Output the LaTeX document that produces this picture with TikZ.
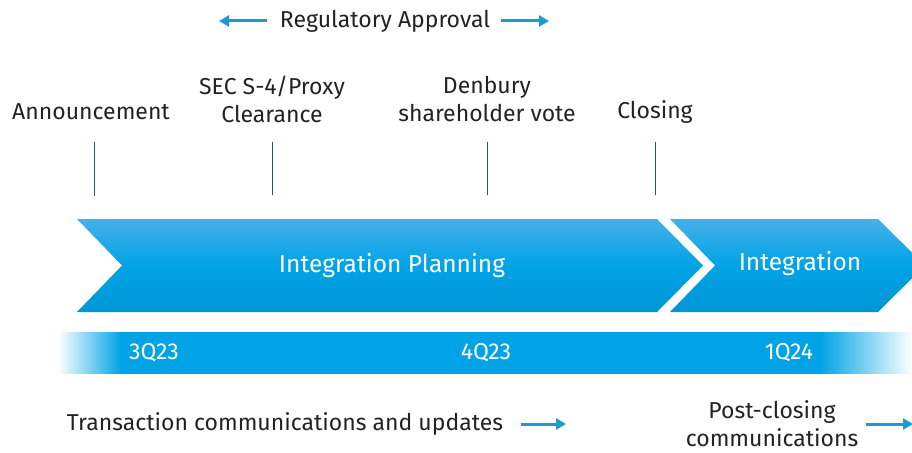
\documentclass[tikz,border=0pt]{standalone}
\usepackage{fontspec}
\setmainfont{Fira Sans}
\usetikzlibrary{arrows.meta}
\definecolor{cblue}{HTML}{00A3E6}
\definecolor{ctop}{HTML}{45B0EA}
\definecolor{cbot}{HTML}{0096D6}
\definecolor{ctext}{HTML}{222222}
\definecolor{tick}{HTML}{2A4F98}
\definecolor{arr}{HTML}{1C9AD8}
\pgfdeclarehorizontalshading{qbar}{100bp}{color(0bp)=(white); color(25bp)=(white); color(28.7bp)=(cblue); color(69.6bp)=(cblue); color(75bp)=(white); color(100bp)=(white)}
\tikzset{
  lbl/.style={text=ctext,font=\fontsize{23}{28}\selectfont,align=center,inner sep=0pt},
  wlbl/.style={text=white,font=\fontsize{24.5}{28}\selectfont,inner sep=0pt},
  qlbl/.style={text=white,font=\fontsize{23}{28}\selectfont,inner sep=0pt},
  tickline/.style={draw=tick,line width=1pt},
  barrow/.style={draw=arr,line width=3pt,-{Triangle[length=10pt,width=11pt]}},
}
\begin{document}
\begin{tikzpicture}[x=1pt,y=-1pt]
\useasboundingbox (0,0) rectangle (912,452);
\begin{scope}
\clip (0,0) rectangle (912,452);
% top arrows
\node[lbl] (reg) at (385,21) {Regulatory Approval};
\coordinate (regL) at (219,21);
\coordinate (regR) at (549,21);
\draw[barrow] (reg.west) ++(-13,0) -- (regL);
\draw[barrow] (reg.east) ++(11,0) -- (regR);
% milestones
\node[lbl] (ann) at (91,112) {Announcement};
\node[lbl] (sec) at (272,99) {SEC S-4/Proxy\\Clearance};
\node[lbl] (den) at (487,99) {Denbury\\shareholder vote};
\node[lbl] (clo) at (655,112) {Closing};
\coordinate (t1a) at (94,142); \coordinate (t1b) at (94,196);
\coordinate (t2a) at (272,142); \coordinate (t2b) at (272,195);
\coordinate (t3a) at (487,142); \coordinate (t3b) at (487,195);
\coordinate (t4a) at (655,142); \coordinate (t4b) at (655,195);
\draw[tickline] (t1a) -- (t1b);
\draw[tickline] (t2a) -- (t2b);
\draw[tickline] (t3a) -- (t3b);
\draw[tickline] (t4a) -- (t4b);
% chevrons
\shade[top color=ctop,bottom color=cbot,middle color=cblue]
  (77,219) -- (657,219) -- (703,265.5) -- (657,312) -- (77,312) -- (122,265.5) -- cycle;
\shade[top color=ctop,bottom color=cbot,middle color=cblue]
  (670,219) -- (878,219) -- (925,265.5) -- (878,312) -- (670,312) -- (715,265.5) -- cycle;
\node[wlbl] (ip) at (392,266) {Integration Planning};
\node[wlbl] (int) at (800,264) {Integration};
% quarter bar
\shade[shading=qbar] (58,332) rectangle (912,373);
\node[qlbl] (q1) at (154,353) {3Q23};
\node[qlbl] (q2) at (486,353) {4Q23};
\node[qlbl] (q3) at (789,353) {1Q24};
% bottom
\node[lbl] (tc) at (285,424) {Transaction communications and updates};
\coordinate (tcA) at (566,424);
\draw[barrow] (tc.east) ++(18,0) -- (tcA);
\node[lbl] (pc) at (772,424) {Post-closing\\communications};
\coordinate (pcA) at (913,424);
\draw[barrow] (pc.east) ++(8,0) -- (pcA);
\end{scope}
\end{tikzpicture}
\end{document}
